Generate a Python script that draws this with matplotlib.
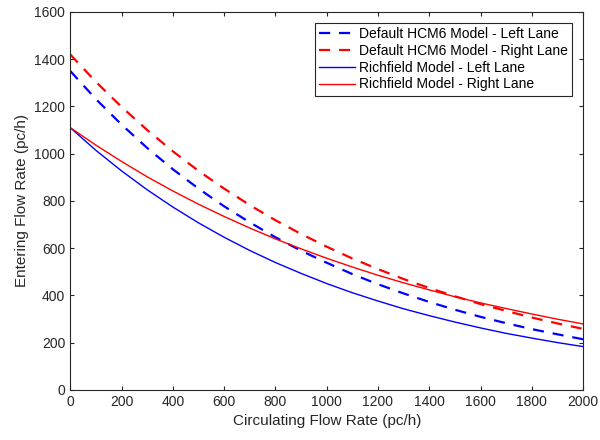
import matplotlib
matplotlib.use('Agg')
import matplotlib.pyplot as plt

plt.rcParams['font.family'] = ['Liberation Sans', 'DejaVu Sans']

# Circulating flow (pc/h)
flow = [0, 100, 200, 300, 400, 500, 600, 700, 800, 900, 1000,
        1100, 1200, 1300, 1400, 1500, 1600, 1700, 1800, 1900, 2000]

# Entering flow (pc/h)
hcm_left = [1350, 1231, 1123, 1024, 934, 852, 777, 709, 646, 589, 538,
            490, 447, 408, 372, 339, 309, 282, 257, 235, 214]
hcm_right = [1420, 1304, 1198, 1100, 1010, 927, 852, 782, 718, 660, 606,
             556, 511, 469, 431, 396, 363, 334, 306, 281, 258]
rich_left = [1110, 1014, 927, 847, 774, 707, 646, 590, 539, 493, 450,
             411, 376, 343, 314, 287, 262, 239, 219, 200, 183]
rich_right = [1110, 1036, 967, 902, 842, 786, 734, 685, 639, 597, 557,
              520, 485, 453, 423, 394, 368, 344, 321, 299, 279]

fig = plt.figure(figsize=(6, 4.4), dpi=100)
ax = fig.add_axes([0.117, 0.114, 0.855, 0.859])

ax.plot(flow, hcm_left, color='blue', linestyle=(0, (5, 4)), linewidth=1.6,
        label='Default HCM6 Model - Left Lane')
ax.plot(flow, hcm_right, color='red', linestyle=(0, (5, 4)), linewidth=1.6,
        label='Default HCM6 Model - Right Lane')
ax.plot(flow, rich_left, color='blue', linewidth=1.0,
        label='Richfield Model - Left Lane')
ax.plot(flow, rich_right, color='red', linewidth=1.0,
        label='Richfield Model - Right Lane')

ax.set_xlim(0, 2000)
ax.set_ylim(0, 1600)
ax.set_xticks(range(0, 2001, 200))
ax.set_yticks(range(0, 1601, 200))
ax.set_xlabel('Circulating Flow Rate (pc/h)', fontsize=11, color='#262626')
ax.set_ylabel('Entering Flow Rate (pc/h)', fontsize=11, color='#262626')

ax.tick_params(direction='in', top=True, right=True, labelsize=10,
               colors='#262626', length=3)
for s in ax.spines.values():
    s.set_color('#262626')
    s.set_linewidth(0.8)

leg = ax.legend(loc='upper right', fontsize=10, fancybox=False,
                edgecolor='#262626', framealpha=1, handlelength=2.6,
                borderpad=0.3, labelspacing=0.2, handletextpad=0.3,
                borderaxespad=0.8)
leg.get_frame().set_linewidth(0.8)

fig.savefig('out.png', dpi=100)
